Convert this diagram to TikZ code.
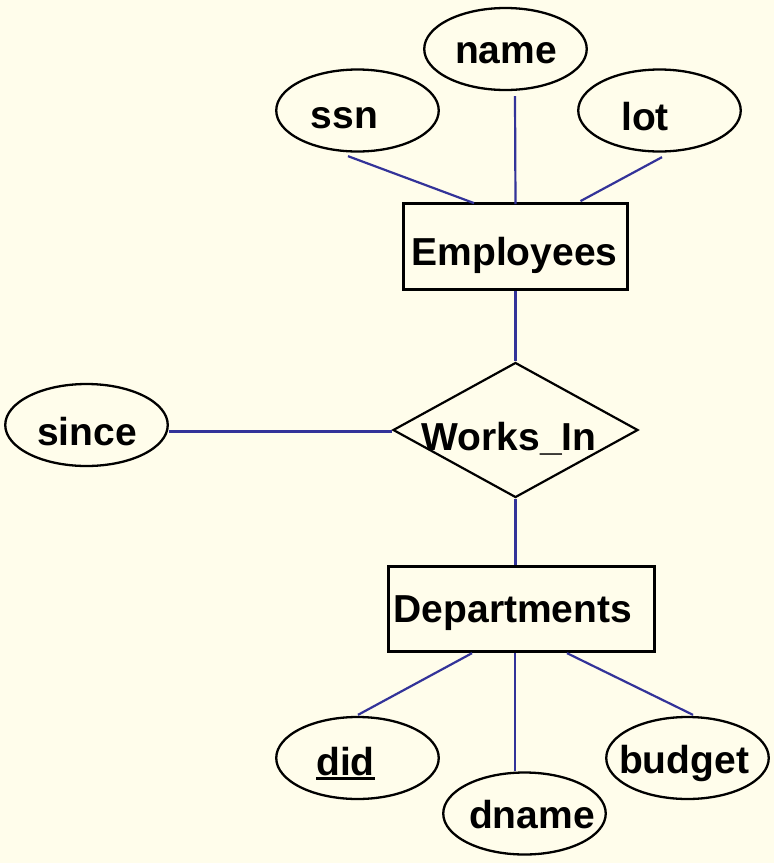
\documentclass[tikz,border=0pt]{standalone}
\usepackage{fontspec}
\setmainfont{Liberation Sans}
\usetikzlibrary{shapes.geometric,calc}
\definecolor{bg}{RGB}{255,253,235}
\definecolor{conn}{RGB}{51,51,153}
\newcommand\lbl[3]{\makebox[0pt]{\hspace*{#1}\raisebox{#2}{#3}}}
\newcommand\keyul[1]{\setbox0\hbox{#1}\rlap{\rule[-5pt]{\wd0}{3pt}}\box0}
\begin{document}
\begin{tikzpicture}[x=1pt,y=-1pt,
  font=\fontsize{39}{39}\selectfont\bfseries,
  every node/.style={inner sep=0pt, text height=0pt, text depth=0pt},
  attr/.style={ellipse, draw=black, line width=2.3pt, minimum width=162.5pt, minimum height=82pt},
  ent/.style={rectangle, draw=black, line width=3.3pt},
  rel/.style={diamond, draw=black, line width=2.2pt, minimum width=245pt, minimum height=135pt},
  link/.style={draw=conn, line width=2.2pt}]
\fill[bg] (0,0) rectangle (774,863);
\useasboundingbox (0,0) rectangle (774,863);

\node[attr] (ssn) at (357.5,110.5) {\lbl{-26pt}{-17.5pt}{ssn}};
\node[attr] (name) at (505.5,49) {\lbl{1pt}{-14pt}{name}};
\node[attr] (lot) at (659.5,110.5) {\lbl{-29pt}{-19.5pt}{lot}};
\node[ent, minimum width=224.5pt, minimum height=85.5pt] (emp) at (515.5,246.5) {\lbl{-2pt}{-18.5pt}{Employees}};
\node[rel] (works) at (515.5,430) {\lbl{-13pt}{-20pt}{Works\_In}};
\node[attr] (since) at (86.5,425) {\lbl{1pt}{-20pt}{since}};
\node[ent, minimum width=266pt, minimum height=85pt] (dept) at (521.5,609) {\lbl{-17pt}{-13pt}{Departments}};
\node[attr] (did) at (357.5,758) {\lbl{-24pt}{-17pt}{\keyul{did}}};
\node[attr] (dname) at (524.5,813.5) {\lbl{15pt}{-14.5pt}{dname}};
\node[attr] (budget) at (687.5,758) {\lbl{-7pt}{-15pt}{budget}};

\path[link] ($(ssn.south)+(-9.5,3.5)$) -- ($(emp.north)+(-41.5,1)$);
\path[link] ($(name.south)+(9.5,5)$) -- ($(emp.north)+(0,2)$);
\path[link] ($(lot.south)+(2.5,4.5)$) -- ($(emp.north)+(65,-1)$);
\path[link] (emp.south) -- (works.north);
\path[link, line width=3pt] ($(since.east)+(0,6)$) -- ($(works.west)+(0,1)$);
\path[link] (works.south) -- ($(dept.north)+(-6,0)$);
\path[link] ($(dept.south)+(-49.5,0)$) -- ($(did.north)+(0.5,-1)$);
\path[link] ($(dept.south)+(-6.5,0)$) -- ($(dname.north)+(-9.5,0)$);
\path[link] ($(dept.south)+(45.5,0)$) -- ($(budget.north)+(5.5,-1)$);
\end{tikzpicture}
\end{document}
